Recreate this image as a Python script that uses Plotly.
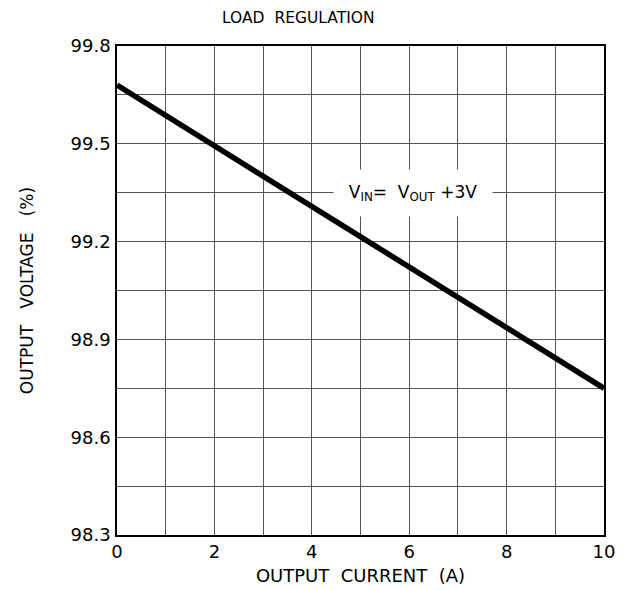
import plotly.graph_objects as go

# Data
current_a = [0, 10]
output_voltage_pct = [99.68, 98.75]

x_ticks = [0, 2, 4, 6, 8, 10]
y_ticks = [98.3, 98.6, 98.9, 99.2, 99.5, 99.8]
y_tick_labels = ["98.3", "98.6", "98.9", "99.2", "99.5", "99.8"]

title_text = "LOAD  REGULATION"
x_title = "OUTPUT  CURRENT  (A)"
y_title = "OUTPUT   VOLTAGE   (%)"
note_text = "V<sub>IN</sub>=  V<sub>OUT</sub> +3V"
note_x, note_y = 6.08, 99.35

FONT = "DejaVu Sans"
GRID = "#555555"

fig = go.Figure()
fig.add_trace(go.Scatter(
    x=current_a, y=output_voltage_pct, mode="lines",
    line=dict(color="black", width=5.5), showlegend=False, hoverinfo="skip",
))

# The page body adds an 8px margin, so the figure is 8px smaller than the window
fig.update_layout(
    width=623, height=582,
    margin=dict(l=109, r=27, t=38, b=55),
    paper_bgcolor="white", plot_bgcolor="white",
    font=dict(family=FONT, color="black", size=17),
    showlegend=False,
)

fig.update_xaxes(
    range=[0, 10], tickmode="array", tickvals=x_ticks,
    ticktext=[str(v) for v in x_ticks],
    showgrid=True, gridcolor=GRID, gridwidth=1,
    minor=dict(dtick=1, tick0=0, showgrid=True, gridcolor=GRID, gridwidth=1),
    showline=True, linecolor="black", linewidth=1.5, mirror=True,
    ticks="", ticklabelstandoff=0, zeroline=False, automargin=False,
    tickfont=dict(size=18, family=FONT),
    title=dict(text=x_title, font=dict(size=18, family=FONT), standoff=8),
)
fig.update_yaxes(
    range=[98.3, 99.8], tickmode="array", tickvals=y_ticks, ticktext=y_tick_labels,
    showgrid=True, gridcolor=GRID, gridwidth=1,
    minor=dict(dtick=0.15, tick0=98.3, showgrid=True, gridcolor=GRID, gridwidth=1),
    showline=True, linecolor="black", linewidth=1.5, mirror=True,
    ticks="", ticklabelstandoff=1, zeroline=False, automargin=False,
    tickfont=dict(size=18, family=FONT),
    title=dict(text=y_title, font=dict(size=17, family=FONT), standoff=33),
)

fig.add_annotation(
    x=note_x, y=note_y, xref="x", yref="y", text=note_text, showarrow=False,
    font=dict(size=17, family=FONT), bgcolor="white", width=156, height=44,
)
fig.add_annotation(
    x=0.372, y=1.0, xref="paper", yref="paper", yanchor="bottom", yshift=17,
    text=title_text, showarrow=False, font=dict(size=15.5, family=FONT),
)

fig.write_html("out.html")
